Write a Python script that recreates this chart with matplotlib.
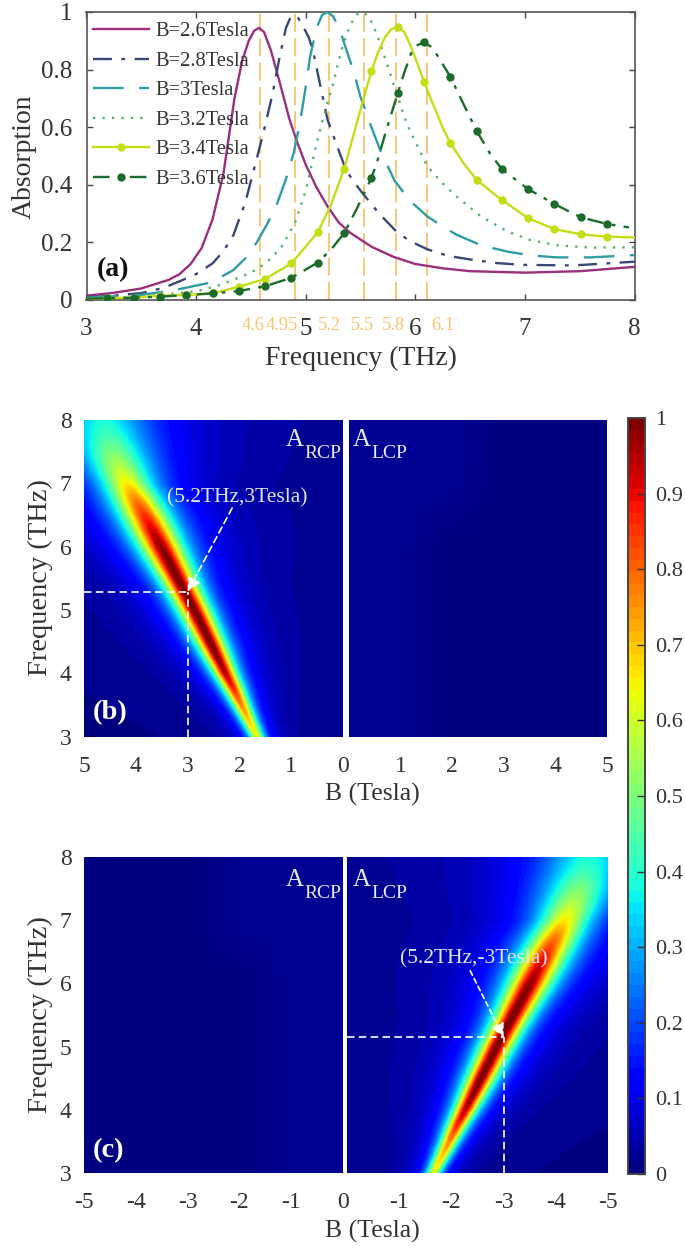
import numpy as np
import matplotlib
matplotlib.use("Agg")
import matplotlib.pyplot as plt

plt.rcParams['font.family'] = ['Liberation Serif', 'DejaVu Serif']
W, H = 685, 1249
INK = '#333333'
ORANGE = '#f6c570'

# ---------- panel (a) data ----------
f26 = [3, 3.25, 3.5, 3.75, 3.85, 3.95, 4.05, 4.15, 4.25, 4.35, 4.42, 4.48, 4.53, 4.575, 4.62, 4.68, 4.76, 4.85, 4.92, 5.0, 5.1, 5.2, 5.3, 5.4, 5.6, 5.8, 6.0, 6.25, 6.5, 7, 7.5, 8]
v26 = [.015, .025, .04, .07, .09, .125, .18, .28, .44, .7, .83, .9, .935, .945, .93, .87, .76, .63, .55, .47, .39, .325, .27, .235, .185, .15, .125, .11, .1, .095, .1, .115]
f28 = [3, 3.25, 3.5, 3.7, 3.85, 4.0, 4.15, 4.25, 4.34, 4.45, 4.55, 4.62, 4.7, 4.76, 4.82, 4.86, 4.89, 4.93, 4.97, 5.03, 5.07, 5.13, 5.2, 5.31, 5.37, 5.44, 5.51, 5.67, 5.83, 5.95, 6.11, 6.3, 6.53, 6.75, 6.98, 7.44, 8]
v28 = [.01, .015, .024, .042, .065, .09, .127, .17, .225, .34, .486, .59, .72, .84, .945, .98, .99, .98, .955, .91, .86, .75, .625, .51, .45, .41, .375, .3, .237, .205, .176, .153, .139, .128, .122, .12, .133]
f30 = [3, 3.5, 3.8, 4.1, 4.25, 4.34, 4.45, 4.55, 4.65, 4.73, 4.82, 4.89, 4.95, 5.0, 5.04, 5.1, 5.15, 5.2, 5.25, 5.31, 5.37, 5.44, 5.5, 5.6, 5.68, 5.81, 5.95, 6.11, 6.25, 6.38, 6.6, 6.84, 7.05, 7.29, 7.6, 8]
v30 = [.008, .018, .034, .058, .085, .104, .145, .198, .265, .325, .42, .51, .62, .74, .845, .945, .99, 1.0, .985, .94, .87, .79, .705, .6, .52, .415, .345, .29, .255, .226, .19, .168, .155, .148, .148, .156]
f32 = [3, 3.5, 4, 4.2, 4.34, 4.5, 4.64, 4.78, 4.9, 5.0, 5.1, 5.18, 5.25, 5.32, 5.4, 5.46, 5.51, 5.56, 5.61, 5.68, 5.75, 5.81, 5.92, 6.0, 6.11, 6.25, 6.38, 6.6, 6.84, 7.05, 7.29, 7.6, 8]
v32 = [.006, .012, .03, .05, .07, .095, .128, .185, .266, .38, .545, .66, .75, .86, .95, .99, 1, .99, .96, .89, .81, .74, .614, .55, .463, .405, .358, .29, .238, .208, .19, .182, .183]
f34 = [3, 3.19, 3.43, 3.67, 3.91, 4.15, 4.39, 4.63, 4.87, 5.11, 5.23, 5.35, 5.47, 5.54, 5.6, 5.66, 5.72, 5.78, 5.84, 5.9, 5.96, 6.02, 6.08, 6.14, 6.2, 6.26, 6.32, 6.44, 6.56, 6.68, 6.79, 7.03, 7.27, 7.51, 7.75, 8]
v34 = [.005, .006, .0083, .015, .0174, .023, .046, .073, .127, .235, .33, .454, .62, .715, .795, .86, .91, .94, .949, .93, .88, .82, .758, .7, .645, .59, .545, .475, .417, .38, .347, .284, .246, .228, .22, .217]
f36 = [3, 3.19, 3.43, 3.67, 3.91, 4.15, 4.39, 4.63, 4.87, 5.11, 5.23, 5.35, 5.47, 5.6, 5.66, 5.72, 5.78, 5.84, 5.9, 5.96, 6.02, 6.08, 6.14, 6.2, 6.32, 6.44, 6.56, 6.68, 6.79, 7.03, 7.27, 7.51, 7.75, 7.95]
v36 = [.005, .006, .008, .0116, .017, .023, .031, .048, .077, .13, .175, .231, .32, .424, .49, .57, .645, .718, .79, .855, .885, .895, .88, .85, .775, .68, .587, .51, .454, .385, .333, .287, .264, .252]
marker_f = [3.19, 3.43, 3.67, 3.91, 4.15, 4.39, 4.63, 4.87, 5.11, 5.35, 5.6, 5.84, 6.08, 6.32, 6.56, 6.79, 7.03, 7.27, 7.51, 7.75]
labels_a = ['B=2.6Tesla', 'B=2.8Tesla', 'B=3Tesla', 'B=3.2Tesla', 'B=3.4Tesla', 'B=3.6Tesla']
vline_f = [4.58, 4.90, 5.21, 5.53, 5.82, 6.11]
vline_labels = ['4.6', '4.95', '5.2', '5.5', '5.8', '6.1']
vline_label_px = [253, 282, 329, 362, 393, 443]

# ---------- panels (b),(c): ridge ----------
row_f = [3, 3.25, 3.5, 3.75, 4, 4.25, 4.5, 4.75, 5, 5.25, 5.5, 5.75, 6, 6.25, 6.5, 6.75, 7, 7.25, 7.5, 7.75, 8]
row_centre = [1.66, 1.81, 1.96, 2.11, 2.27, 2.42, 2.57, 2.72, 2.87, 3.03, 3.19, 3.35, 3.51, 3.67, 3.83, 4.0, 4.17, 4.31, 4.44, 4.54, 4.63]
row_peak = [.62, .68, .76, .86, .94, .98, 1.0, 1.0, 1.0, 1.0, 1.0, .99, .97, .92, .85, .76, .65, .56, .49, .42, .37]
row_width = [.15, .165, .18, .195, .21, .23, .25, .265, .28, .29, .31, .34, .37, .40, .43, .46, .5, .6, .7, .8, .9]
floor_level = .012
quiet_B = [0, 1, 2, 3, 4, 5]
quiet_f = [3, 4, 5, 6, 7, 8]
quiet_A = [[.018, .016, .015, .014, .014, .014],
           [.018, .016, .015, .014, .014, .014],
           [.018, .016, .015, .014, .014, .014],
           [.020, .017, .015, .014, .014, .014],
           [.024, .019, .016, .015, .014, .014],
           [.030, .023, .018, .015, .015, .015]]
cbar_ticks = [0, .1, .2, .3, .4, .5, .6, .7, .8, .9, 1]
JET = plt.get_cmap('jet', 64)


def ax_px(fig, x0, y0, x1, y1):
    return fig.add_axes([x0 / W, 1 - y1 / H, (x1 - x0) / W, (y1 - y0) / H])


def txt(fig, x, y, s, **kw):
    kw.setdefault('ha', 'center')
    kw.setdefault('va', 'center')
    kw.setdefault('color', INK)
    fig.text(x / W, 1 - y / H, s, **kw)


def ridge_field():
    f = np.linspace(3, 8, 320)
    B = np.linspace(0, 5, 300)
    c = np.interp(f, row_f, row_centre)[:, None]
    p = np.interp(f, row_f, row_peak)[:, None]
    w = np.interp(f, row_f, row_width)[:, None]
    return p / (1 + ((B[None, :] - c) / w) ** 2) + floor_level


fig = plt.figure(figsize=(W / 100, H / 100), dpi=100)

# ---------- (a) ----------
ax = ax_px(fig, 86.5, 12, 634.5, 300)
ax.vlines(vline_f, 0, 1, color=ORANGE, lw=1.3, linestyles=[(0, (10, 3.5))], zorder=1)
LW = 1.7
ax.plot(f26, v26, color='#9c2e7e', lw=LW, label=labels_a[0], zorder=3)
ax.plot(f28, v28, color='#3a4877', lw=LW, ls=(0, (8, 4, 1.6, 4)), label=labels_a[1], zorder=3)
ax.plot(f30, v30, color='#2f9da3', lw=LW, ls=(0, (13, 6.5)), label=labels_a[2], zorder=3)
ax.plot(f32, v32, color='#58b06c', lw=LW, ls=(0, (1, 3)), label=labels_a[3], zorder=3)
ax.plot(f34, v34, color='#c4de16', lw=LW, marker='o', ms=5,
        markevery=[x in marker_f for x in f34], label=labels_a[4], zorder=3)
ax.plot(f36, v36, color='#1b6b2b', lw=LW, ls=(0, (7, 3.5, 1.6, 3.5)), marker='o', ms=5,
        markevery=[x in marker_f for x in f36], label=labels_a[5], zorder=4)
ax.set_xlim(3, 8)
ax.set_ylim(0, 1)
ax.set_xticks([3, 4, 5, 6, 7, 8])
ax.set_yticks([0, .2, .4, .6, .8, 1])
ax.set_yticklabels(['0', '0.2', '0.4', '0.6', '0.8', '1'])
ax.tick_params(direction='in', top=True, right=True, length=4, width=1, labelsize=18,
               labelcolor=INK, color='#444444', pad=13)
ax.tick_params(axis='y', pad=10)
for s in ax.spines.values():
    s.set_color('#555555')
    s.set_linewidth(1.2)
ax.legend(loc='upper left', bbox_to_anchor=(0.012, 0.965), frameon=False, fontsize=14.8,
          labelspacing=.49, handlelength=2.7, handletextpad=.35, borderaxespad=0, borderpad=0,
          labelcolor=INK)
for x, s in zip(vline_label_px, vline_labels):
    txt(fig, x, 326, s, color=ORANGE, fontsize=13.2)
txt(fig, 361, 358, 'Frequency (THz)', fontsize=20)
txt(fig, 24, 157, 'Absorption', fontsize=20, rotation=90)
txt(fig, 113, 270, '(a)', fontsize=20, fontweight='bold', color='#111111')

# ---------- (b), (c) ----------
field = ridge_field()


def heat_pair(y0, y1, left_x, right_x, sign):
    axL = ax_px(fig, left_x[0], y0, left_x[1], y1)
    axR = ax_px(fig, right_x[0], y0, right_x[1], y1)
    bq = np.array(quiet_B, float)
    fq = np.array(quiet_f, float)
    qa = np.array(quiet_A)
    if sign > 0:
        axL.imshow(field, extent=[0, 5, 3, 8], origin='lower', aspect='auto', cmap=JET,
                   vmin=0, vmax=1, interpolation='bilinear', interpolation_stage='rgba')
        axR.pcolormesh(bq, fq, qa, shading='gouraud', cmap=JET, vmin=0, vmax=1)
        axL.set_xlim(5, 0)
        axR.set_xlim(0, 5)
        axL.set_xticks([5, 4, 3, 2, 1, 0])
        axL.set_xticklabels(['5', '4', '3', '2', '1', '0'])
        axR.set_xticks([1, 2, 3, 4, 5])
        axR.set_xticklabels(['1', '2', '3', '4', '5'])
        data_ax = axL
    else:
        axR.imshow(field, extent=[0, -5, 3, 8], origin='lower', aspect='auto', cmap=JET,
                   vmin=0, vmax=1, interpolation='bilinear', interpolation_stage='rgba')
        axL.pcolormesh(-bq, fq, qa, shading='gouraud', cmap=JET, vmin=0, vmax=1)
        axL.set_xlim(-5, 0)
        axR.set_xlim(0, -5)
        axL.set_xticks([-5, -4, -3, -2, -1, 0])
        axL.set_xticklabels(['-5', '-4', '-3', '-2', '-1', '0'])
        axR.set_xticks([-1, -2, -3, -4, -5])
        axR.set_xticklabels(['-1', '-2', '-3', '-4', '-5'])
        data_ax = axR
    for a in (axL, axR):
        a.set_ylim(3, 8)
        a.tick_params(length=0, labelsize=17, labelcolor=INK, pad=14)
        for s in a.spines.values():
            s.set_visible(False)
    axL.set_yticks([3, 4, 5, 6, 7, 8])
    axL.tick_params(axis='y', pad=9)
    axR.set_yticks([])
    return data_ax


# (b)
d = heat_pair(420, 736.7, (84, 343), (349, 607), 1)
DASH = (0, (4.5, 2.6))
d.plot([5, 3], [5.29, 5.29], color='white', lw=1.2, ls=DASH)
d.plot([3, 3], [3, 5.29], color='white', lw=1.2, ls=DASH)
d.annotate('', xy=(3, 5.29), xytext=(2.14, 6.61),
           arrowprops=dict(arrowstyle='-|>,head_width=.4,head_length=.8', color='white', lw=1.2,
                           ls=(0, (4, 2.5)), shrinkA=0, shrinkB=0))
txt(fig, 237, 498, '(5.2THz,3Tesla)', color='#dfe6f5', fontsize=15.5)
txt(fig, 110, 713, '(b)', color='white', fontsize=20.5, fontweight='bold')
txt(fig, 40, 578, 'Frequency (THz)', rotation=90, fontsize=20.5)
txt(fig, 372, 794, 'B (Tesla)', fontsize=18.5)
for x, y, s, fs in [(295, 440, 'A', 18), (323, 453, 'RCP', 14), (362, 440, 'A', 18), (389, 453, 'LCP', 14)]:
    txt(fig, x, y, s, color='#e6ecf8', fontsize=fs)

# (c)
d = heat_pair(857, 1173, (84, 343), (347, 608), -1)
d.plot([0, -3], [5.15, 5.15], color='white', lw=1.2, ls=DASH)
d.plot([-3, -3], [3, 5.15], color='white', lw=1.2, ls=DASH)
d.annotate('', xy=(-3, 5.15), xytext=(-2.36, 6.2),
           arrowprops=dict(arrowstyle='-|>,head_width=.4,head_length=.8', color='white', lw=1.2,
                           ls=(0, (3, 2.2)), shrinkA=0, shrinkB=0))
txt(fig, 474, 959, '(5.2THz,-3Tesla)', color='#dfe6f5', fontsize=15.5)
txt(fig, 108, 1151, '(c)', color='white', fontsize=20.5, fontweight='bold')
txt(fig, 40, 1015, 'Frequency (THz)', rotation=90, fontsize=20.5)
txt(fig, 372, 1231, 'B (Tesla)', fontsize=18.5)
for x, y, s, fs in [(295, 880, 'A', 18), (323, 893, 'RCP', 14), (362, 880, 'A', 18), (389, 893, 'LCP', 14)]:
    txt(fig, x, y, s, color='#e6ecf8', fontsize=fs)

# ---------- colour bar ----------
cax = ax_px(fig, 628, 418, 645, 1174)
cb = fig.colorbar(plt.cm.ScalarMappable(norm=plt.Normalize(0, 1), cmap=JET), cax=cax)
cb.set_ticks(cbar_ticks)
cb.set_ticklabels(['0', '0.1', '0.2', '0.3', '0.4', '0.5', '0.6', '0.7', '0.8', '0.9', '1'])
cax.tick_params(direction='in', length=6, width=1, labelsize=16, labelcolor=INK, color='#333333', pad=7)
cb.outline.set_edgecolor('#444444')
cb.outline.set_linewidth(1.4)

fig.savefig('out.png', dpi=100)
